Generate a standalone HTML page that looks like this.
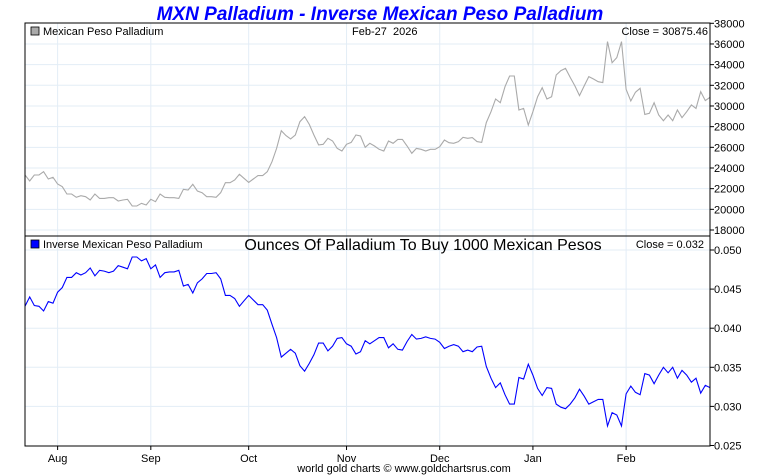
<!DOCTYPE html>
<html><head><meta charset="utf-8"><style>
body{margin:0;background:#fff;width:760px;height:475px;overflow:hidden;font-family:"Liberation Sans",sans-serif}
svg{display:block}
</style></head><body>
<svg id="c" width="760" height="475" font-family="Liberation Sans, sans-serif">
<text x="380" y="20" text-anchor="middle" font-size="19" font-weight="bold" font-style="italic" fill="#0000ff">MXN Palladium - Inverse Mexican Peso Palladium</text>
<g id="grid"></g>
<g id="series"></g>
<rect x="25" y="23" width="685" height="213" fill="none" stroke="#000"/>
<rect x="25" y="236" width="685" height="210" fill="none" stroke="#000"/>
<rect x="31" y="27" width="8" height="8" fill="#aaa" stroke="#000" stroke-width="0.8"/>
<text x="43" y="35" font-size="11">Mexican Peso Palladium</text>
<text x="352" y="35" font-size="11" xml:space="preserve">Feb-27  2026</text>
<text x="708" y="35" font-size="11" text-anchor="end">Close = 30875.46</text>
<rect x="31" y="240" width="8" height="8" fill="#0000ff" stroke="#000" stroke-width="0.8"/>
<text x="43" y="248" font-size="11">Inverse Mexican Peso Palladium</text>
<text x="423" y="250" font-size="16" text-anchor="middle">Ounces Of Palladium To Buy 1000 Mexican Pesos</text>
<text x="704" y="248" font-size="11" text-anchor="end">Close = 0.032</text>
<text x="404" y="472" font-size="11" text-anchor="middle">world gold charts © www.goldchartsrus.com</text>
</svg>
<script>
const topVals=[23320,22740,23320,23320,23640,22935,23100,22450,22190,21480,21480,21160,21320,21220,20900,21480,21060,21060,21130,21130,20810,20900,20970,20320,20320,20580,20420,20970,20740,21480,21160,21130,21130,21060,21935,21870,22420,21770,21610,21220,21220,21160,21610,22580,22580,22840,23390,23000,22610,22930,23260,23260,23640,24610,25900,27610,27130,26810,27190,28480,28970,28220,27190,26230,26290,26870,26610,25900,25640,26290,26480,27190,27100,26000,26390,26130,25810,25640,26610,26390,26770,26770,26130,
25420,25900,25810,25640,25810,25810,26060,26710,26450,26390,26550,26970,26870,26940,26550,26480,28390,29450,30680,30320,31870,32900,32900,29610,29770,28160,29450,30900,31770,30680,30900,33000,33420,33640,32770,31940,31000,31940,32840,32610,32350,32260,36230,34190,34680,36230,31610,30480,31320,31710,29190,29290,30320,29130,28580,29130,28580,29610,28870,29450,30100,29770,31390,30520,30840];
const invVals=[0.0428,0.0440,0.0429,0.0428,0.0422,0.0434,0.0432,0.0446,0.0452,0.0465,0.0465,0.0471,0.0468,0.0471,0.0477,0.0467,0.0474,0.0473,0.0471,0.0473,0.0480,0.0478,0.0476,0.0491,0.0491,0.0486,0.0489,0.0476,0.0481,0.0465,0.0471,0.0472,0.0472,0.0474,0.0454,0.0456,0.0445,0.0458,0.0463,0.0470,0.0470,0.0471,0.0463,0.0442,0.0442,0.0438,0.0428,0.0435,0.0442,0.0436,0.0430,0.0430,0.0423,0.0405,0.0388,0.0363,0.0368,0.0373,0.0368,0.0352,0.0345,0.0355,0.0366,0.0381,0.0381,0.0371,0.0377,0.0387,0.0388,0.0380,0.0377,0.0367,0.0370,0.0384,0.0380,0.0384,0.0388,0.0388,0.0375,0.0380,0.0373,0.0372,0.0383,
0.0392,0.0386,0.0387,0.0389,0.0387,0.0386,0.0382,0.0374,0.0377,0.0379,0.0377,0.0370,0.0372,0.0370,0.0376,0.0377,0.0351,0.0336,0.0324,0.0330,0.0315,0.0303,0.0303,0.0337,0.0335,0.0354,0.0340,0.0323,0.0314,0.0324,0.0323,0.0303,0.0299,0.0297,0.0303,0.0311,0.0322,0.0313,0.0303,0.0306,0.0309,0.0309,0.0275,0.0292,0.0289,0.0275,0.0316,0.0326,0.0318,0.0315,0.0342,0.0340,0.0329,0.0340,0.0350,0.0343,0.0350,0.0336,0.0346,0.0340,0.0331,0.0336,0.0317,0.0327,0.0324];
const topTicks=[18000,20000,22000,24000,26000,28000,30000,32000,34000,36000,38000];
const invTicks=[0.025,0.030,0.035,0.040,0.045,0.050];
const months=["Aug","Sep","Oct","Nov","Dec","Jan","Feb"];
const monthIdx=[7,27,48,69,89,109,129];

const NS="http://www.w3.org/2000/svg";
const X0=25,X1=710;
const n=topVals.length;
const xs=i=>X0+i*(X1-X0)/(n-1);
const yTop=v=>23.3+(38000-v)/2000*20.67;
const yInv=v=>250+(0.05-v)/0.005*39.1;
const grid=document.getElementById('grid'),ser=document.getElementById('series'),svg=document.getElementById('c');
function mk(tag,attrs,parent){const e=document.createElementNS(NS,tag);for(const k in attrs)e.setAttribute(k,attrs[k]);parent.appendChild(e);return e;}
const gc="#e3edf6";
topTicks.forEach(t=>{
  const y=yTop(t);
  if(y>24&&y<236){const l=mk('line',{x1:X0,x2:X1,y1:y,y2:y,stroke:gc},grid);
  
  }
  mk('line',{x1:X1,x2:X1+4,y1:y,y2:y,stroke:"#000"},svg);
  const tx=mk('text',{x:X1+4,y:y+4,'font-size':11},svg);tx.textContent=t;
  
  
});
invTicks.forEach(t=>{
  const y=yInv(t);
  if(y>237&&y<445){const l=mk('line',{x1:X0,x2:X1,y1:y,y2:y,stroke:gc},grid);
  
  }
  mk('line',{x1:X1,x2:X1+4,y1:y,y2:y,stroke:"#000"},svg);
  const tx=mk('text',{x:X1+4,y:y+4,'font-size':11},svg);tx.textContent=t.toFixed(3);
  
  
});
months.forEach((m,k)=>{
  const x=xs(monthIdx[k]);
  const l=mk('line',{x1:x,x2:x,y1:23,y2:446,stroke:gc},grid);
  
  
  mk('line',{x1:x,x2:x,y1:446,y2:450,stroke:"#000"},svg);
  const tx=mk('text',{x:x,y:462,'font-size':11,'text-anchor':'middle'},svg);tx.textContent=m;
  
  
});
const p1=mk('polyline',{points:topVals.map((v,i)=>xs(i).toFixed(1)+','+yTop(v).toFixed(1)).join(' '),fill:'none',stroke:'#aaa','stroke-width':1.1},ser);


const p2=mk('polyline',{points:invVals.map((v,i)=>xs(i).toFixed(1)+','+yInv(v).toFixed(1)).join(' '),fill:'none',stroke:'#0000ff','stroke-width':1.1},ser);


</script>
</body></html>
